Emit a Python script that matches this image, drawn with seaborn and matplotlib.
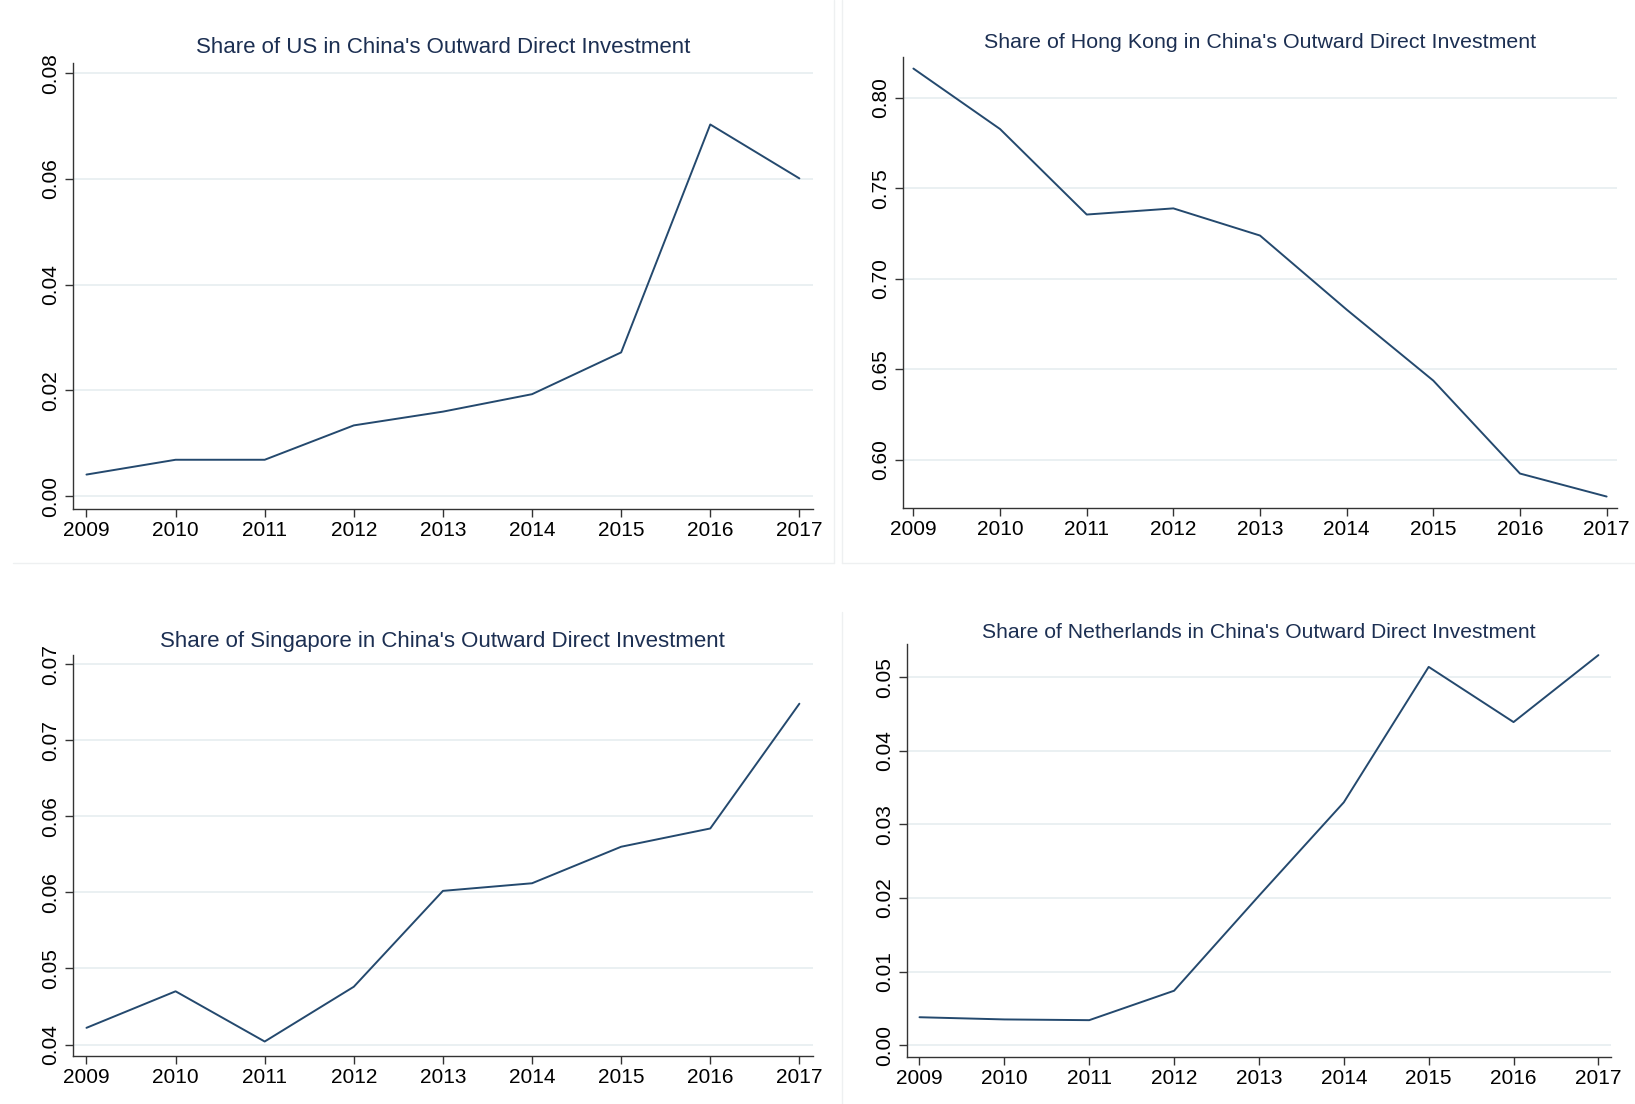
import numpy as np
import pandas as pd
import matplotlib
matplotlib.use("Agg")
import matplotlib.pyplot as plt
import seaborn as sns
from matplotlib.lines import Line2D

# Data
years = [2009, 2010, 2011, 2012, 2013, 2014, 2015, 2016, 2017]
us_share = [0.0041, 0.0069, 0.0069, 0.0134, 0.0160, 0.0193, 0.0272, 0.0703, 0.0601]
hk_share = [0.8161, 0.7827, 0.7355, 0.7389, 0.7239, 0.6830, 0.6438, 0.5925, 0.5798]
sg_share = [0.0411, 0.0435, 0.0402, 0.0438, 0.0501, 0.0506, 0.0530, 0.0542, 0.0624]
nl_share = [0.0038, 0.0035, 0.0034, 0.0074, 0.0203, 0.0330, 0.0514, 0.0439, 0.0530]

us_ticks = [0.00, 0.02, 0.04, 0.06, 0.08]
us_labels = ["0.00", "0.02", "0.04", "0.06", "0.08"]
hk_ticks = [0.60, 0.65, 0.70, 0.75, 0.80]
hk_labels = ["0.60", "0.65", "0.70", "0.75", "0.80"]
sg_ticks = [0.040, 0.045, 0.050, 0.055, 0.060, 0.065]
sg_labels = ["0.04", "0.05", "0.06", "0.06", "0.07", "0.07"]
nl_ticks = [0.00, 0.01, 0.02, 0.03, 0.04, 0.05]
nl_labels = ["0.00", "0.01", "0.02", "0.03", "0.04", "0.05"]

sns.set_style("white")
plt.rcParams['font.family'] = ['Liberation Sans', 'DejaVu Sans']

LINE = "#24496e"
GRID = "#e6eef0"
TITLE = "#1c2f52"

fig = plt.figure(figsize=(16.35, 11.04), dpi=100)

# faint panel borders (graph combine look)
for x0, y0, x1, y1 in [(834, 0, 834, 563), (13, 563, 834, 563),
                       (842, 0, 842, 563), (842, 563, 1635, 563),
                       (842, 612, 842, 1104)]:
    fig.add_artist(Line2D([x0 / 1635, x1 / 1635], [1 - y0 / 1104, 1 - y1 / 1104],
                          color="#eef0f1", lw=1))

panels = [
    ([0.0446, 0.539, 0.4526, 0.4043], us_share, us_ticks, us_labels, (-0.0024, 0.0820), 0.152,
     "Share of US in China's Outward Direct Investment", 7, 16),
    ([0.5523, 0.5399, 0.4367, 0.4085], hk_share, hk_ticks, hk_labels, (0.5735, 0.8225), 0.12,
     "Share of Hong Kong in China's Outward Direct Investment", 6.5, 15.4),
    ([0.0446, 0.0435, 0.4526, 0.3632], sg_share, sg_ticks, sg_labels, (0.03925, 0.0656), 0.152,
     "Share of Singapore in China's Outward Direct Investment", 6, 16),
    ([0.5547, 0.0426, 0.4306, 0.374], nl_share, nl_ticks, nl_labels, (-0.0016, 0.0545), 0.148,
     "Share of Netherlands in China's Outward Direct Investment", 4.5, 15.2),
]

for rect, values, ticks, labels, ylim, xpad, title, tpad, tsize in panels:
    ax = fig.add_axes(rect)
    df = pd.DataFrame({"year": years, "share": values})
    sns.lineplot(data=df, x="year", y="share", ax=ax, color=LINE, lw=1.4)
    ax.set_xlim(years[0] - xpad, years[-1] + xpad)
    ax.set_ylim(*ylim)
    ax.set_xticks(years)
    ax.set_xticklabels([str(y) for y in years], fontsize=15)
    ax.set_yticks(ticks)
    ax.set_yticklabels(labels, fontsize=15, rotation=90, va="center")
    ax.set_xlabel("")
    ax.set_ylabel("")
    for t in ticks:
        ax.axhline(t, color=GRID, lw=1.2, zorder=0)
    sns.despine(ax=ax)
    ax.spines["left"].set_color("#333333")
    ax.spines["bottom"].set_color("#333333")
    ax.spines["left"].set_linewidth(1.0)
    ax.spines["bottom"].set_linewidth(1.0)
    ax.tick_params(axis="both", direction="out", length=6, width=1, color="#333333",
                   left=True, bottom=True, pad=3, labelcolor="black")
    ax.set_title(title, fontsize=tsize, color=TITLE, pad=tpad)

fig.savefig("out.png", dpi=100, facecolor="white")
